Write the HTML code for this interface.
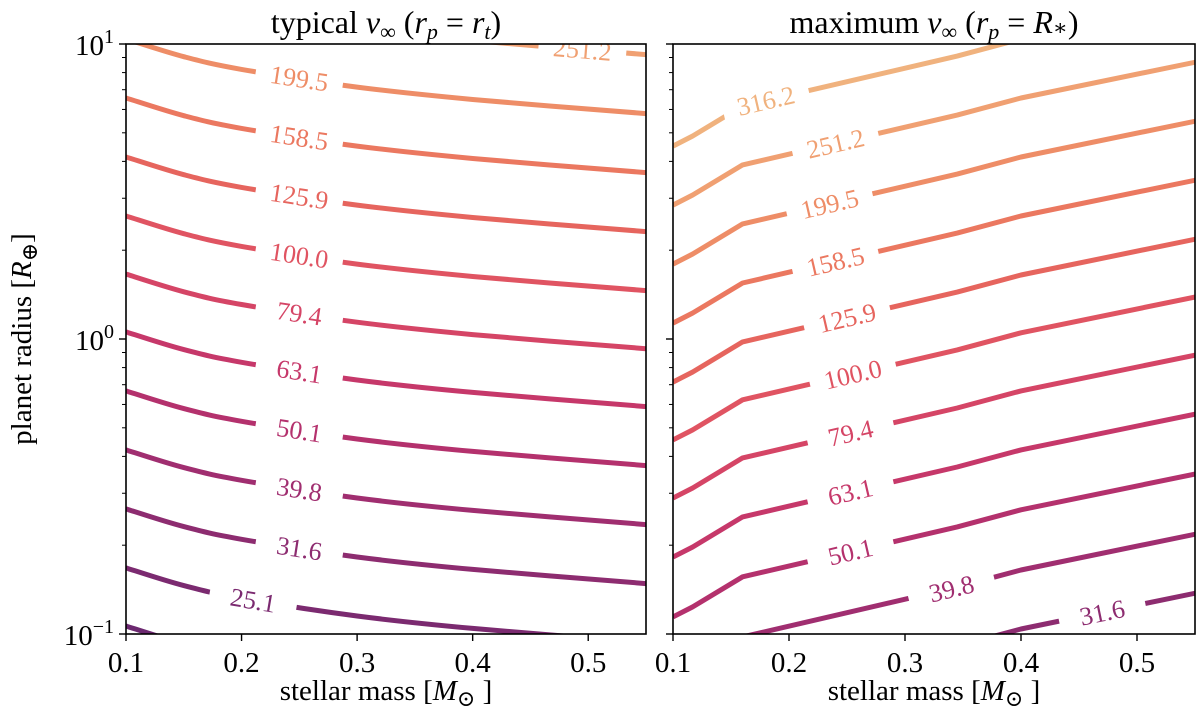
<!DOCTYPE html>
<html><head><meta charset="utf-8"><style>
html,body{margin:0;padding:0;background:#fff;}
svg{display:block;font-family:"Liberation Serif","DejaVu Serif",serif;}
</style></head><body>
<svg id="chart" width="1200" height="723" viewBox="0 0 1200 723" xmlns="http://www.w3.org/2000/svg"></svg>
<script>
// ---- data ----
const levelsLeft = ["251.2","199.5","158.5","125.9","100.0","79.4","63.1","50.1","39.8","31.6","25.1","20.0"];
const massGridLeft = [0.1,0.15,0.2,0.3,0.4,0.55];
const logRadiusLeft = [
 [1.217,1.157,1.114,1.054,1.012,0.964],
 [1.017,0.957,0.914,0.854,0.812,0.764],
 [0.817,0.757,0.714,0.654,0.612,0.564],
 [0.617,0.557,0.514,0.454,0.412,0.364],
 [0.417,0.357,0.314,0.254,0.212,0.164],
 [0.220,0.160,0.117,0.057,0.015,-0.033],
 [0.024,-0.036,-0.079,-0.139,-0.181,-0.229],
 [-0.176,-0.236,-0.279,-0.339,-0.381,-0.429],
 [-0.376,-0.436,-0.479,-0.539,-0.581,-0.629],
 [-0.576,-0.636,-0.679,-0.739,-0.781,-0.829],
 [-0.776,-0.836,-0.879,-0.939,-0.981,-1.029],
 [-0.973,-1.033,-1.076,-1.136,-1.178,-1.226]
];
const labelMassLeft = [0.495,0.25,0.25,0.25,0.25,0.25,0.25,0.25,0.25,0.25,0.21,null];

const levelsRight = ["316.2","251.2","199.5","158.5","125.9","100.0","79.4","63.1","50.1","39.8","31.6"];
const massGridRight = [0.1,0.117,0.16,0.345,0.40,0.551];
const logRadiusRight = [
 [0.654,0.688,0.790,0.959,1.017,1.139],
 [0.454,0.488,0.590,0.759,0.817,0.939],
 [0.254,0.288,0.390,0.559,0.617,0.739],
 [0.054,0.088,0.190,0.359,0.417,0.539],
 [-0.146,-0.112,-0.010,0.159,0.217,0.339],
 [-0.342,-0.308,-0.206,-0.037,0.021,0.143],
 [-0.539,-0.505,-0.403,-0.234,-0.176,-0.054],
 [-0.739,-0.705,-0.603,-0.434,-0.376,-0.254],
 [-0.942,-0.908,-0.806,-0.637,-0.579,-0.457],
 [-1.146,-1.112,-1.010,-0.841,-0.783,-0.661],
 [-1.346,-1.312,-1.210,-1.041,-0.983,-0.861]
];
const labelMassRight = [0.18,0.24,0.235,0.24,0.25,0.255,0.253,0.253,0.253,0.34,0.47];

const xTicks = [0.1,0.2,0.3,0.4,0.5];
const xTickLabels = ["0.1","0.2","0.3","0.4","0.5"];
const yTickLabels = ["10","10","10"];
const yTickExp = ["1","0","\u22121"];
const yTickLog = [1,0,-1];

const colorMap = {"20.0":"#6c2870","25.1":"#7b2a70","31.6":"#8d2c70","39.8":"#a02e70","50.1":"#b4316d","63.1":"#c6386a","79.4":"#d54566","100.0":"#e05462","125.9":"#e6655e","158.5":"#eb7860","199.5":"#ee8d67","251.2":"#f0a072","316.2":"#f0b27e"};

// ---- layout ----
const NS="http://www.w3.org/2000/svg";
const svg=document.getElementById('chart');
function mk(tag,attrs,parent){const e=document.createElementNS(NS,tag);for(const k in attrs)e.setAttribute(k,attrs[k]);(parent||svg).appendChild(e);return e;}
const plotTop=44,plotBottom=634;
const panels=[{x0:126,x1:646},{x0:673,x1:1195}];
function yScale(l){return plotTop+(1-l)/2*(plotBottom-plotTop);}
function xScaleFor(p){return m=>p.x0+(m-0.1)/0.45*(p.x1-p.x0);}

function catmull(pts){
  let d="M"+pts[0][0].toFixed(1)+","+pts[0][1].toFixed(1);
  for(let i=0;i<pts.length-1;i++){
    const p0=pts[i-1]||pts[i],p1=pts[i],p2=pts[i+1],p3=pts[i+2]||p2;
    const c1=[p1[0]+(p2[0]-p0[0])/6,p1[1]+(p2[1]-p0[1])/6];
    const c2=[p2[0]-(p3[0]-p1[0])/6,p2[1]-(p3[1]-p1[1])/6];
    d+="C"+c1[0].toFixed(1)+","+c1[1].toFixed(1)+" "+c2[0].toFixed(1)+","+c2[1].toFixed(1)+" "+p2[0].toFixed(1)+","+p2[1].toFixed(1);
  }
  return d;
}
function interp(grid,vals,m){
  for(let i=0;i<grid.length-1;i++){if(m<=grid[i+1]){const t=(m-grid[i])/(grid[i+1]-grid[i]);return vals[i]+t*(vals[i+1]-vals[i]);}}
  return vals[vals.length-1];
}

function drawPanel(pi,levels,grid,data,labelMass,smooth){
  const p=panels[pi];const xs=xScaleFor(p);
  const defs=mk('defs',{});
  const cp=mk('clipPath',{id:'clip'+pi},defs);
  mk('rect',{x:p.x0,y:plotTop,width:p.x1-p.x0,height:plotBottom-plotTop},cp);
  const g=mk('g',{'clip-path':'url(#clip'+pi+')'});
  
  
  levels.forEach((lv,i)=>{
    const col=colorMap[lv];
    const pts=grid.map((m,j)=>[xs(m),yScale(data[i][j])]);
    const path=mk('path',{d:smooth?catmull(pts):"M"+pts.map(q=>q[0].toFixed(1)+","+q[1].toFixed(1)).join("L"),fill:'none',stroke:col,'stroke-width':5,'stroke-linejoin':'round'},g);
    
    
    const lm=labelMass[i];
    if(lm!=null){
      const lx=xs(lm),ly=yScale(interp(grid,data[i],lm));
      const ax=yScale(interp(grid,data[i],lm-0.02)),bx=yScale(interp(grid,data[i],lm+0.02));
      const ang=Math.atan2(bx-ax,xs(lm+0.02)-xs(lm-0.02))*180/Math.PI;
      const lg=mk('g',{transform:`translate(${lx.toFixed(1)},${ly.toFixed(1)}) rotate(${ang.toFixed(1)})`},g);
      mk('rect',{x:-44,y:-15,width:88,height:30,fill:'#fff'},lg);
      const t=mk('text',{x:0,y:9,'text-anchor':'middle','font-size':26,fill:col},lg);
      t.textContent=lv;
      
      
    }
  });
  const fr=mk('rect',{x:p.x0,y:plotTop,width:p.x1-p.x0,height:plotBottom-plotTop,fill:'none',stroke:'#000','stroke-width':1.6});
  
  
  xTicks.forEach((m,k)=>{
    const x=xs(m);
    mk('line',{x1:x,x2:x,y1:plotBottom,y2:plotBottom+7,stroke:'#000','stroke-width':1.4});
    const t=mk('text',{x:x,y:plotBottom+38,'text-anchor':'middle','font-size':29,fill:'#000'});
    t.textContent=xTickLabels[k];
    
    
  });
  yTickLog.forEach((l,k)=>{
    const y=yScale(l);
    mk('line',{x1:p.x0-7,x2:p.x0,y1:y,y2:y,stroke:'#000','stroke-width':1.4});
    if(pi===0){
      const t=mk('text',{x:p.x0-12,y:y+11,'text-anchor':'end','font-size':29,fill:'#000'});
      t.textContent=yTickLabels[k];
      const s=mk('tspan',{dy:-12,'font-size':20},t);s.textContent=yTickExp[k];
      
      
    }
  });
  for(let d=-1;d<1;d++){for(let k=2;k<=9;k++){const y=yScale(d+Math.log10(k));
    mk('line',{x1:p.x0-4,x2:p.x0,y1:y,y2:y,stroke:'#000','stroke-width':1});}}
  const xl=mk('text',{x:(p.x0+p.x1)/2,y:700,'text-anchor':'middle','font-size':29,fill:'#000'});
  xl.innerHTML='stellar mass [<tspan font-style="italic">M</tspan><tspan font-size="22" dy="6">\u2299</tspan><tspan dy="-6"> ]</tspan>';
  
  
}
drawPanel(0,levelsLeft,massGridLeft,logRadiusLeft,labelMassLeft,true);
drawPanel(1,levelsRight,massGridRight,logRadiusRight,labelMassRight,false);

const t1=mk('text',{x:386,y:33,'text-anchor':'middle','font-size':32,fill:'#000'});
t1.innerHTML='typical <tspan font-style="italic">v</tspan><tspan font-size="22" dy="6">\u221E</tspan><tspan dy="-6"> (</tspan><tspan font-style="italic">r</tspan><tspan font-style="italic" font-size="22" dy="6">p</tspan><tspan dy="-6"> = </tspan><tspan font-style="italic">r</tspan><tspan font-style="italic" font-size="22" dy="6">t</tspan><tspan dy="-6">)</tspan>';


const t2=mk('text',{x:934,y:33,'text-anchor':'middle','font-size':32,fill:'#000'});
t2.innerHTML='maximum <tspan font-style="italic">v</tspan><tspan font-size="22" dy="6">\u221E</tspan><tspan dy="-6"> (</tspan><tspan font-style="italic">r</tspan><tspan font-style="italic" font-size="22" dy="6">p</tspan><tspan dy="-6"> = </tspan><tspan font-style="italic">R</tspan><tspan font-size="22" dy="2">\u2217</tspan><tspan dy="-2">)</tspan>';


const yl=mk('text',{x:0,y:0,'text-anchor':'middle','font-size':29,fill:'#000',transform:'translate(31,339) rotate(-90)'});
yl.innerHTML='planet radius [<tspan font-style="italic">R</tspan><tspan font-size="22" dy="6">\u2295</tspan><tspan dy="-6">]</tspan>';


</script>
</body></html>
